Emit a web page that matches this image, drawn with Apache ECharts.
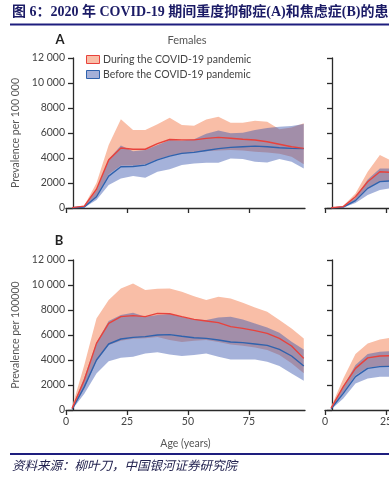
<!DOCTYPE html>
<html><head><meta charset="utf-8">
<script src="https://cdn.jsdelivr.net/npm/echarts@6/dist/echarts.min.js"></script>
<style>html,body{margin:0;padding:0;background:#fff}#c{width:389px;height:480px}</style>
</head><body><div id="c"></div>
<script>
// Age group midpoints (years)
const ages = [2.5,7.5,12.5,17.5,22.5,27.5,32.5,37.5,42.5,47.5,52.5,57.5,62.5,67.5,72.5,77.5,82.5,87.5,92.5,97.5];
const xTickValues = [0,25,50,75];
const yTickLabels = ['0','2000','4000','6000','8000','10 000','12 000'];

// A: major depressive disorder, females
const depFDuring   = [30,150,1500,3850,4800,4700,4700,5150,5480,5450,5450,5570,5650,5580,5500,5440,5300,5100,4900,4770];
const depFDuringLo = [15,70,950,2700,3400,3400,3500,3900,4200,4350,4450,4550,4600,4650,4600,4500,4450,4350,4100,3500];
const depFDuringHi = [50,200,2000,5050,7100,6250,6250,6700,7230,6650,6580,7080,7300,6830,6830,6990,6900,6300,6450,6780];
const depFBefore   = [20,80,900,2550,3300,3320,3430,3850,4150,4370,4450,4600,4750,4850,4900,4950,4900,4820,4770,4750];
const depFBeforeLo = [10,50,640,1840,2370,2560,2430,2910,3100,3440,3570,3620,3630,3970,3920,3710,3650,3920,3710,3170];
const depFBeforeHi = [40,150,1400,3900,5000,4550,4650,5050,5450,5400,5500,5950,6200,5980,6020,6250,6400,6500,6560,6720];

// A: major depressive disorder, males (visible part)
const depMDuring   = [20,110,900,2100,2900,2850];
const depMDuringLo = [10,70,600,1600,2150,2200];
const depMDuringHi = [30,190,1170,2900,4250,3750];
const depMBefore   = [10,70,590,1570,2110,2170];
const depMBeforeLo = [5,40,400,1040,1440,1600];
const depMBeforeHi = [20,120,800,2290,3170,3150];

// B: anxiety disorders, females
const anxFDuring   = [130,2400,5330,6930,7470,7550,7470,7730,7700,7470,7250,7120,6990,6670,6530,6350,6130,5730,5120,4130];
const anxFDuringLo = [50,1700,3900,5200,5550,5700,5750,5850,5600,5450,5550,5600,5450,5250,5150,5000,4800,4400,3750,2950];
const anxFDuringHi = [270,3600,7330,8800,9730,10130,9600,9700,9730,9470,9100,8800,9070,8930,8590,8210,7870,7200,6530,5730];
const anxFBefore   = [60,1850,4000,5280,5680,5810,5870,6000,6030,5900,5780,5730,5600,5440,5390,5280,5170,4850,4320,3520];
const anxFBeforeLo = [20,1300,2930,3900,4190,4270,4530,4620,4450,4320,4400,4530,4270,4050,4050,4050,3870,3520,2930,2350];
const anxFBeforeHi = [100,2600,5400,7130,7600,7790,7470,7600,7680,7470,7250,7200,7410,7470,7250,6930,6610,6190,5470,4850];

// B: anxiety disorders, males (visible part)
const anxMDuring   = [150,1870,3330,4170,4320,4350];
const anxMDuringLo = [80,1400,2800,3400,3500,3500];
const anxMDuringHi = [250,2530,4480,5330,5650,5810];
const anxMBefore   = [100,1330,2670,3330,3470,3500];
const anxMBeforeLo = [50,930,2130,2530,2670,2670];
const anxMBeforeHi = [150,1900,3600,4480,4670,4720];

const RED = '#e8423c', BLUE = '#2f62ad';
const SALMON = '#f9bea7', BLUEFILL = 'rgba(56,84,173,0.45)';
const FONT = 'Lato';

const panels = [
  {d:depFDuring, dl:depFDuringLo, dh:depFDuringHi, b:depFBefore, bl:depFBeforeLo, bh:depFBeforeHi},
  {d:depMDuring, dl:depMDuringLo, dh:depMDuringHi, b:depMBefore, bl:depMBeforeLo, bh:depMBeforeHi},
  {d:anxFDuring, dl:anxFDuringLo, dh:anxFDuringHi, b:anxFBefore, bl:anxFBeforeLo, bh:anxFBeforeHi},
  {d:anxMDuring, dl:anxMDuringLo, dh:anxMDuringHi, b:anxMBefore, bl:anxMBeforeLo, bh:anxMBeforeHi}
];

const grids = [
  {left:66, top:58, width:239, height:150, outerBoundsMode:'none', containLabel:false},
  {left:325, top:58, width:239, height:150, outerBoundsMode:'none', containLabel:false},
  {left:66, top:260, width:239, height:150, outerBoundsMode:'none', containLabel:false},
  {left:325, top:260, width:239, height:150, outerBoundsMode:'none', containLabel:false}
];

const axisColor = '#2a2a2a';
const xAxes = grids.map((g,i)=>({
  type:'value', gridIndex:i, min:0, max:98,
  axisLine:{show:true, onZero:false, lineStyle:{color:axisColor, width:1.3}},
  axisTick:{show:true, length:5, customValues:xTickValues, lineStyle:{color:axisColor, width:1.3}},
  axisLabel:{show:i>=2, customValues:xTickValues, fontSize:10.5, color:'#444', fontFamily:FONT, margin:6},
  splitLine:{show:false},
  name: i===2 ? 'Age (years)' : '',
  nameLocation:'middle', nameGap:28,
  nameTextStyle:{fontSize:10.5, color:'#555', fontFamily:FONT}
}));
const yAxes = grids.map((g,i)=>({
  type:'value', gridIndex:i, min:0, max:12000, interval:2000, offset:-7,
  axisLine:{show:true, lineStyle:{color:axisColor, width:1.3}},
  axisTick:{show:true, length:5, lineStyle:{color:axisColor, width:1.3}},
  axisLabel:{show:(i===0||i===2), fontSize:10.5, color:'#444', fontFamily:FONT, margin:8,
    formatter:(v)=>yTickLabels[Math.round(v/2000)]},
  splitLine:{show:false},
  name: i===0 ? 'Prevalence per 100 000' : (i===2 ? 'Prevalence per 100000' : ''),
  nameLocation:'middle', nameGap:42,
  nameTextStyle:{fontSize:10.5, color:'#555', fontFamily:FONT}
}));

const series = [];
function pts(vals){ return vals.map((v,k)=>[ages[k], v]); }
// stacked band series: value first so the stack runs along y (encode maps dims)
function stackPts(vals){ return vals.map((v,k)=>[v, ages[k]]); }
function diffVals(lo, hi){ return lo.map((v,k)=>hi[k]-v); }
panels.forEach((p,i)=>{
  const base = {type:'line', xAxisIndex:i, yAxisIndex:i, symbol:'none', silent:true, animation:false,
    encode:{x:1, y:0}};
  series.push(Object.assign({}, base, {stack:'dur'+i, data:stackPts(p.dl), lineStyle:{opacity:0}}));
  series.push(Object.assign({}, base, {stack:'dur'+i, data:stackPts(diffVals(p.dl,p.dh)), lineStyle:{opacity:0},
    areaStyle:{color:SALMON, opacity:1}}));
  series.push(Object.assign({}, base, {stack:'bef'+i, data:stackPts(p.bl), lineStyle:{opacity:0}}));
  series.push(Object.assign({}, base, {stack:'bef'+i, data:stackPts(diffVals(p.bl,p.bh)), lineStyle:{opacity:0},
    areaStyle:{color:BLUEFILL, opacity:1}}));
});
panels.forEach((p,i)=>{
  const base = {type:'line', xAxisIndex:i, yAxisIndex:i, symbol:'none', silent:true, animation:false};
  series.push(Object.assign({}, base, {data:pts(p.b), lineStyle:{color:BLUE, width:1.4}}));
  series.push(Object.assign({}, base, {data:pts(p.d), lineStyle:{color:RED, width:1.4}}));
});

const navy = '#1e1e7e';
const graphic = [
  {type:'text', x:12, y:12, style:{text:'图 6：2020 年 COVID-19 期间重度抑郁症(A)和焦虑症(B)的患病率',
    font:'bold 14px "Liberation Serif", "Noto Sans CJK SC"', fill:'#1b1b66', verticalAlign:'middle'}},
  {type:'line', shape:{x1:10, y1:24.5, x2:389, y2:24.5}, style:{stroke:navy, lineWidth:2}},
  {type:'text', x:60, y:40, style:{text:'A', font:'bold 13px '+FONT, fill:'#222', align:'center', verticalAlign:'middle'}},
  {type:'text', x:187, y:40, style:{text:'Females', font:'11px '+FONT, fill:'#555', align:'center', verticalAlign:'middle'}},
  {type:'text', x:59, y:241, style:{text:'B', font:'bold 13px '+FONT, fill:'#222', align:'center', verticalAlign:'middle'}},
  {type:'rect', shape:{x:86.5, y:55.5, width:13, height:8}, style:{fill:SALMON, stroke:RED, lineWidth:1}},
  {type:'rect', shape:{x:86.5, y:70.5, width:13, height:8}, style:{fill:'#a5b0d8', stroke:BLUE, lineWidth:1}},
  {type:'text', x:103, y:59.5, style:{text:'During the COVID-19 pandemic', font:'10.5px '+FONT, fill:'#444', verticalAlign:'middle'}},
  {type:'text', x:103, y:74.5, style:{text:'Before the COVID-19 pandemic', font:'10.5px '+FONT, fill:'#444', verticalAlign:'middle'}},
  {type:'line', shape:{x1:10, y1:454, x2:389, y2:454}, style:{stroke:navy, lineWidth:2}},
  {type:'text', x:12, y:465, style:{text:'资料来源：柳叶刀，中国银河证券研究院',
    font:'italic 12.5px "Noto Sans CJK SC"', fill:'#22224f', verticalAlign:'middle'}}
];

const chart = echarts.init(document.getElementById('c'), null, {renderer:'canvas'});
chart.setOption({
  animation:false,
  backgroundColor:'#fff',
  grid:grids, xAxis:xAxes, yAxis:yAxes, series:series, graphic:graphic
});
</script>
</body></html>
